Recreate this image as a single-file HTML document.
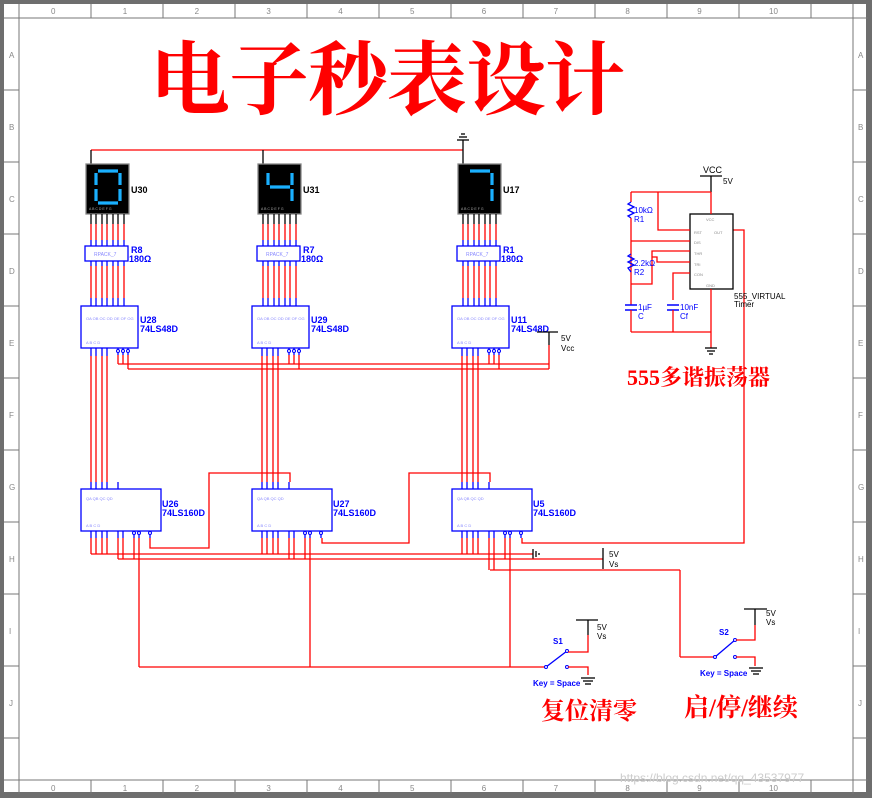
<!DOCTYPE html>
<html><head><meta charset="utf-8"><style>
html,body{margin:0;padding:0;background:#fff}
svg{display:block}
text{font-family:"Liberation Sans",sans-serif}
</style></head><body>
<svg id="s" width="872" height="798" xmlns="http://www.w3.org/2000/svg">
<rect x="0" y="0" width="872" height="798" fill="#6e6e6e"/>
<rect x="4" y="4" width="862" height="788" fill="#fff"/>
<g id="g"></g>
<text x="150" y="108" font-size="80" font-weight="bold" fill="#f00" style="font-family:'Noto Serif CJK SC','Noto Serif CJK JP',serif" textLength="475">电子秒表设计</text>
<text x="627" y="385" font-size="22" font-weight="bold" fill="#f00" style="font-family:'Liberation Serif','Noto Serif CJK SC',serif">555多谐振荡器</text>
<text x="541" y="719" font-size="24" font-weight="bold" fill="#f00" style="font-family:'Noto Serif CJK SC',serif">复位清零</text>
<text x="684" y="716" font-size="25" font-weight="bold" fill="#f00" style="font-family:'Liberation Serif','Noto Serif CJK SC',serif">启/停/继续</text>
<text x="620" y="782" font-size="12" fill="#ccc">https://blog.csdn.net/qq_43537977</text>
</svg>
<script>
var g=document.getElementById('g'),h='';
function L(x1,y1,x2,y2,c,w){h+='<line x1="'+x1+'" y1="'+y1+'" x2="'+x2+'" y2="'+y2+'" stroke="'+(c||'#f00')+'" stroke-width="'+(w||1.3)+'"/>';}
function P(pts,c){h+='<polyline points="'+pts+'" fill="none" stroke="'+(c||'#f00')+'" stroke-width="1.3"/>';}
function R(x,y,w,hh,c,f){h+='<rect x="'+x+'" y="'+y+'" width="'+w+'" height="'+hh+'" fill="'+(f||'#fff')+'" stroke="'+(c||'#00f')+'" stroke-width="1.3"/>';}
function T(x,y,t,s,c,b){h+='<text x="'+x+'" y="'+y+'" font-size="'+s+'" fill="'+(c||'#00f')+'"'+(b?' font-weight="bold"':'')+'>'+t+'</text>';}
var fc='#777';
L(19,4,19,794,fc,1);L(853,4,853,794,fc,1);L(4,18,868,18,fc,1);L(4,780,868,780,fc,1);
for(var i=0;i<=10;i++){var x=91+72*i; if(x<853){L(x,4,x,18,fc,1);L(x,780,x,794,fc,1);} T(54+71.8*i-3,14,i,8,'#888');T(54+71.8*i-3,791,i,8,'#888');}
var rows='ABCDEFGHIJ';
for(var i=0;i<10;i++){var y=90+72*i;L(4,y,19,y,fc,1);L(853,y,868,y,fc,1);T(9,58+72*i,rows[i],8,'#888');T(858,58+72*i,rows[i],8,'#888');}
L(91,150,463,150);L(463,140,463,150,'#000');L(457,140,469,140,'#000');L(459,137,467,137,'#000');L(461,134,465,134,'#000');
var segs=[['abcdef'],['fgbc'],['abc']];
var names=[['U30','R8','U28','U26'],['U31','R7','U29','U27'],['U17','R1','U11','U5']];
var offs=[0,171,371];
var px=[91,96,102,107,113,118,124];
function seg(dx,s){var x0=96+dx,x1=120+dx,y0=171,y1=187,y2=203,c='#1ab0ff',w=3.2;
 var m={a:[x0+2,y0,x1-2,y0],b:[x1,y0+2,x1,y1-2],c:[x1,y1+2,x1,y2-2],d:[x0+2,y2,x1-2,y2],e:[x0,y1+2,x0,y2-2],f:[x0,y0+2,x0,y1-2],g:[x0+2,y1,x1-2,y1]};
 for(var i=0;i<s.length;i++){var q=m[s[i]];L(q[0],q[1],q[2],q[3],c,w);}}
for(var k=0;k<3;k++){var o=offs[k];var dx=o+(k>0?1:0);
 L(91+dx,150,91+dx,164,'#000');
 R(86+dx,164,43,50,'#888','#000');
 T(131+dx,193,names[k][0],9,'#000',1);
 seg(dx,segs[k][0]);
 T(89+dx,210,'A B C D E F G',3.5,'#aaa');
 for(var j=0;j<7;j++){var x=px[j]+dx;L(x,214,x,224,'#000');L(x,224,x,240);L(x,240,x,246,'#00f');L(x,261,x,266,'#00f');L(x,266,x,298);L(x,298,x,306,'#00f');}
 R(85+dx,246,43,15);T(94+dx,256,'RPACK_7',5,'#88f');T(131+dx,253,names[k][1],9,'#00f',1);T(129+dx,262,'180Ω',9,'#00f',1);
 R(81+o,306,57,42);T(140+o,323,names[k][2],9,'#00f',1);T(140+o,332,'74LS48D',9,'#00f',1);
 T(86+o,320,'OA OB OC OD OE OF OG',4,'#88f');T(86+o,344,'A B C D',4,'#88f');
 for(var j=0;j<4;j++){var x=px[j]+o;L(x,348,x,356,'#00f');L(x,356,x,482);L(x,482,x,489,'#00f');}
 [118,123,128].forEach(function(x,m){x+=o;L(x,348,x,355,'#00f');h+='<circle cx="'+x+'" cy="351" r="1.5" fill="#fff" stroke="#00f"/>';L(x,355,x,m==2?369:364);});
 R(81+o,489,80,42);T(162+o,507,names[k][3],9,'#00f',1);T(162+o,516,'74LS160D',9,'#00f',1);
 T(86+o,500,'QA QB QC QD',4,'#88f');T(86+o,527,'A B C D',4,'#88f');
 L(118+o,482,118+o,489,'#00f');
 for(var j=0;j<4;j++){var x=px[j]+o;L(x,531,x,538,'#00f');L(x,538,x,554);}
 [118,123].forEach(function(x){x+=o;L(x,531,x,538,'#00f');L(x,538,x,k==2?570:559);});
 [134,139,150].forEach(function(x){x+=o;L(x,531,x,538,'#00f');h+='<circle cx="'+x+'" cy="533" r="1.5" fill="#fff" stroke="#00f"/>';});
 L(134+o,538,134+o,559);L(139+o,538,139+o,667);
}
L(118,364,549,364);L(128,369,549,369);
L(537,332,558,332,'#000');L(549,332,549,345,'#000');L(549,345,549,369);T(561,341,'5V',8,'#000');T(561,351,'Vcc',8,'#000');
L(91,554,533,554);L(533,549,533,559,'#000');L(536,551,536,557,'#000');L(539,553,539,555,'#000');
L(118,559,603,559);L(603,548,603,569,'#000');T(609,557,'5V',8,'#000');T(609,567,'Vs',8,'#000');
L(490,570,680,570);L(680,570,680,657);
P('150,538 150,548 209,548 209,473 290,473 290,482');
P('322,538 322,543 409,543 409,473 490,473 490,482');
P('522,538 522,543 744,543 744,230 733,230');
R(690,214,43,75,'#000');T(706,221,'VCC',4,'#888');T(694,234,'RST',4,'#888');T(714,234,'OUT',4,'#888');T(694,244,'DIS',4,'#888');T(694,255,'THR',4,'#888');T(694,266,'TRI',4,'#888');T(694,276,'CON',4,'#888');T(706,287,'GND',4,'#888');
T(703,173,'VCC',9,'#000');T(723,184,'5V',8,'#000');L(700,176,722,176,'#000');L(711,176,711,192,'#000');L(711,192,711,214);
T(734,299,'555_VIRTUAL',8,'#000');T(734,307,'Timer',8,'#000');
L(631,192,711,192);P('658,192 658,230 690,230');
L(631,192,631,202);P('631,202 628,204 634,207 628,210 634,213 628,216 631,218','#00f');L(631,218,631,284);
L(631,241,690,241);P('631,254 628,256 634,259 628,262 634,265 628,268 631,272','#00f');
P('631,284 652,284 652,251 690,251');P('652,257 657,257 657,262 690,262');
P('690,273 673,273 673,300');
L(631,284,631,305);L(625,305,637,305,'#00f',1.5);L(625,310,637,310,'#00f',1.5);L(631,310,631,332);
L(667,305,679,305,'#00f',1.5);L(667,310,679,310,'#00f',1.5);L(673,310,673,332);
L(631,332,711,332);L(711,289,711,348);L(705,348,717,348,'#000');L(707,351,715,351,'#000');L(709,354,713,354,'#000');
T(634,213,'10kΩ',8,'#00f');T(634,222,'R1',8,'#00f');T(634,266,'2.2kΩ',8,'#00f');T(634,275,'R2',8,'#00f');
T(638,310,'1µF',8,'#00f');T(638,319,'C',8,'#00f');T(680,310,'10nF',8,'#00f');T(680,319,'Cf',8,'#00f');
L(139,667,546,667);L(546,667,567,651,'#00f');h+='<circle cx="546" cy="667" r="1.5" fill="#fff" stroke="#00f"/><circle cx="567" cy="651" r="1.5" fill="#fff" stroke="#00f"/><circle cx="567" cy="667" r="1.5" fill="#fff" stroke="#00f"/>';
L(576,620,598,620,'#000');L(588,620,588,635,'#000');P('588,635 588,652 568,652');P('568,667 588,667 588,675');
L(581,678,595,678,'#000');L(583,681,593,681,'#000');L(585,684,591,684,'#000');
T(597,630,'5V',8,'#000');T(597,639,'Vs',8,'#000');T(553,644,'S1',8,'#00f',1);T(533,686,'Key = Space',8,'#00f',1);
L(680,657,715,657);L(715,657,735,640,'#00f');h+='<circle cx="715" cy="657" r="1.5" fill="#fff" stroke="#00f"/><circle cx="735" cy="640" r="1.5" fill="#fff" stroke="#00f"/><circle cx="735" cy="657" r="1.5" fill="#fff" stroke="#00f"/>';
L(744,609,767,609,'#000');L(755,609,755,625,'#000');P('755,625 755,640 736,640');P('736,657 755,657 755,666');
L(749,668,763,668,'#000');L(751,671,761,671,'#000');L(753,674,759,674,'#000');
T(766,616,'5V',8,'#000');T(766,625,'Vs',8,'#000');T(719,635,'S2',8,'#00f',1);T(700,676,'Key = Space',8,'#00f',1);
g.innerHTML=h;
</script>
</body></html>
